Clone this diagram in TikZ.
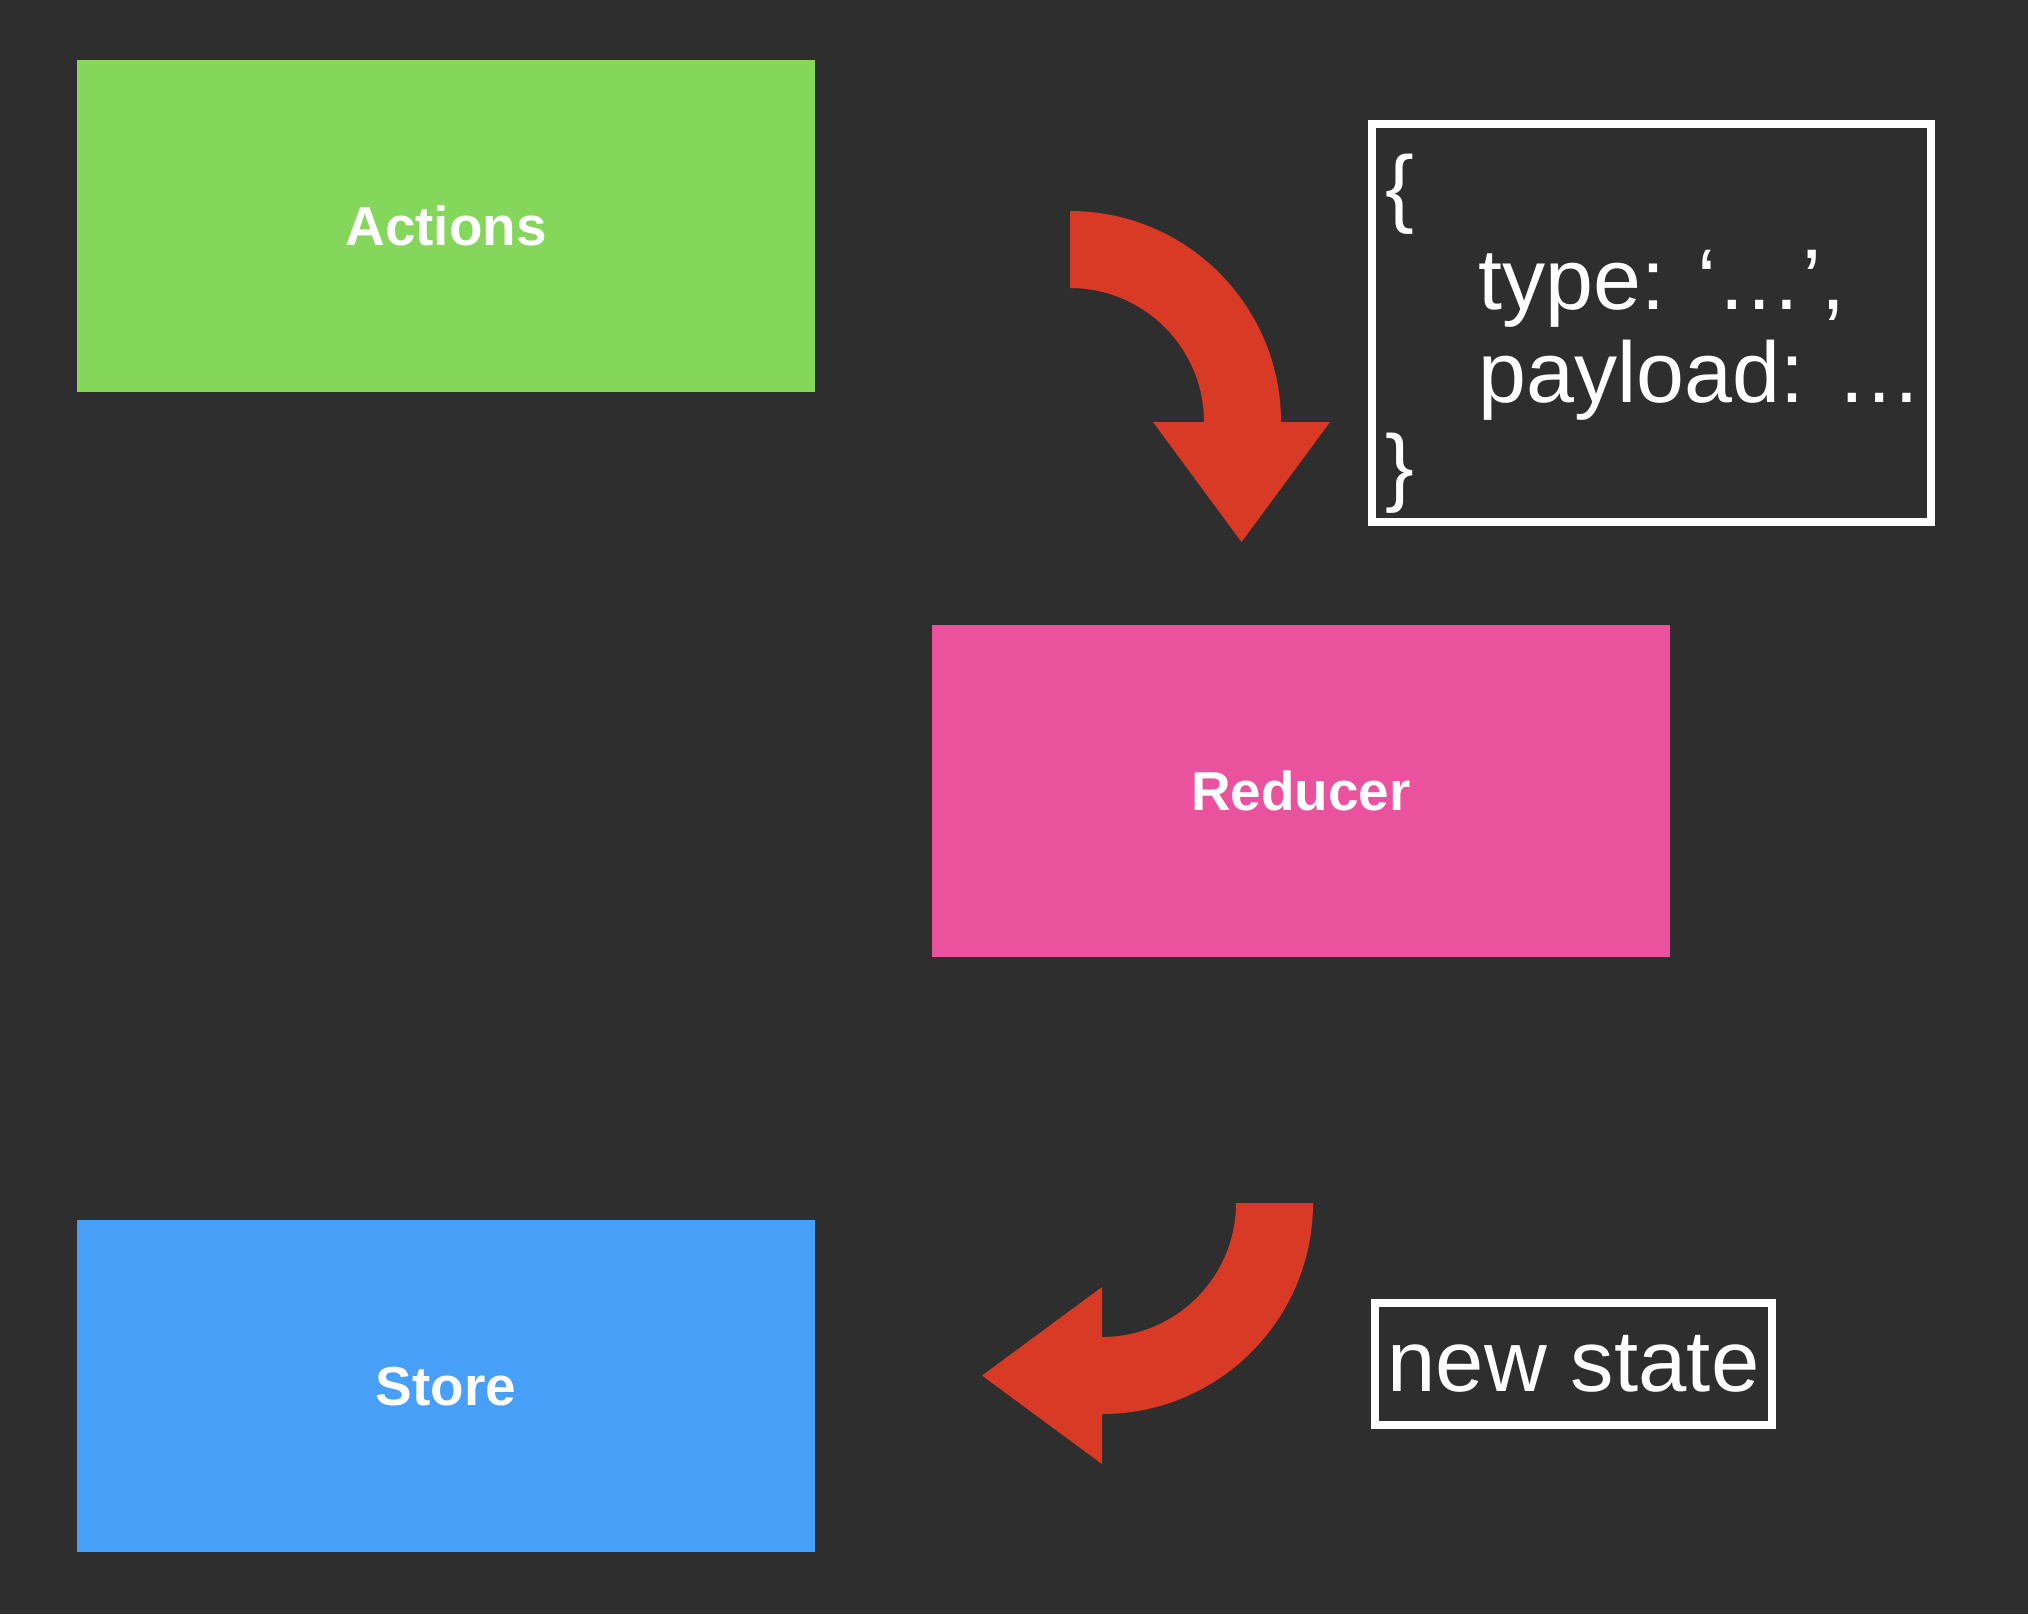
\documentclass[tikz,border=0pt]{standalone}
\usepackage{fontspec}
\usepackage{xcolor}
\setmainfont{Liberation Sans}
\usetikzlibrary{positioning,calc}

\definecolor{bgdark}{RGB}{46,46,46}
\definecolor{actiongreen}{RGB}{132,215,90}
\definecolor{reducerpink}{RGB}{234,82,157}
\definecolor{storeblue}{RGB}{72,159,247}
\definecolor{flowred}{RGB}{216,58,38}

\begin{document}
\begin{tikzpicture}[x=0.01cm, y=-0.01cm,
      block/.style={minimum width=7.37cm, minimum height=3.32cm, inner sep=0pt,
         text=white, font=\fontsize{15.6pt}{18pt}\selectfont\bfseries},
      notebox/.style={draw=white, line width=0.08cm, inner sep=0pt, text=white,
         font=\fontsize{24.7pt}{26.5pt}\selectfont},
      notetext/.style={inner sep=0pt, text=white, align=left,
         font=\fontsize{24.5pt}{26.5pt}\selectfont},
      bendarrow/.style={fill=flowred}]
      \fill[bgdark] (0,0) rectangle (2028,1614);
      \useasboundingbox (0,0) rectangle (2028,1614);

      \node[block, fill=actiongreen, name=actions] at (446,226) {Actions};
      \node[block, fill=reducerpink, name=reducer, below right=2.31cm and 1.16cm of actions] {Reducer};
      \node[block, fill=storeblue, name=store, below=8.26cm of actions] {Store};

      % action object and new state notes
      \node[notebox, name=msg, minimum width=5.59cm, minimum height=3.98cm] at (1651.5,323) {};
      \node[notetext, name=msgtext, anchor=north west] at (1385,153)
         {\{\\\hspace*{0.93cm}type: ‘…’,\\\hspace*{0.93cm}payload: …\\\}};
      \node[notebox, name=newstate, minimum width=3.97cm, minimum height=1.22cm] at (1573.5,1364) {new state};

      % curved arrows
      \coordinate (bendtop) at (1070,422);
      \coordinate (bendlow) at (1102,1203);
      \fill[bendarrow] ($(bendtop)+(0,-211)$) arc[start angle=-90, end angle=0, radius=211]
         -- ++(49,0) -- ++(-88.5,120) -- ++(-88.5,-120) -- ++(51,0)
         arc[start angle=0, end angle=-90, radius=134] -- cycle;
      \fill[bendarrow] ($(bendlow)+(211,0)$) arc[start angle=0, end angle=90, radius=211]
         -- ++(0,50) -- ++(-120,-88.5) -- ++(120,-88.5) -- ++(0,50)
         arc[start angle=90, end angle=0, radius=134] -- cycle;
   \end{tikzpicture}
\end{document}
